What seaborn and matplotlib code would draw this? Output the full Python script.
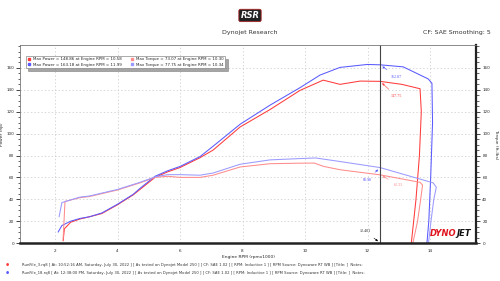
import matplotlib
matplotlib.use("Agg")
import matplotlib.pyplot as plt
import seaborn as sns
from matplotlib.lines import Line2D
from matplotlib.ticker import MultipleLocator

# ----------------------------------
# Dyno run data (rpm x1000 vs hp / ft-lbs)
# ----------------------------------
red_power_rpm = [2.26, 2.30, 2.50, 2.80, 3.10, 3.50, 4.00, 4.50, 4.72, 5.20, 5.60, 6.00,
                 6.64, 7.06, 7.92, 8.88, 9.84, 10.58, 11.12, 11.76, 12.40, 13.10, 13.68,
                 13.72, 13.66, 13.55, 13.40]
red_power_hp = [2, 13, 19, 22, 24, 27, 35, 44, 49, 60, 65, 69,
                78, 85, 106, 122, 139.5, 148.86, 145, 148, 147.75, 145, 141,
                120, 80, 40, 0]

blue_power_rpm = [2.10, 2.22, 2.50, 2.80, 3.10, 3.50, 4.00, 4.50, 4.72, 5.20, 5.60, 6.00,
                  6.64, 7.06, 7.92, 8.88, 9.84, 10.48, 11.12, 11.99, 12.40, 13.14, 13.94,
                  14.06, 14.08, 14.02, 13.96, 13.90]
blue_power_hp = [10, 16, 20, 22.5, 24, 27.5, 35.5, 44.5, 50, 61, 66, 70,
                 79, 88.5, 108.5, 126, 142, 153.5, 160.5, 163.18, 162.87, 161, 150,
                 146, 110, 60, 20, 0]

red_torque_rpm = [2.26, 2.32, 2.80, 3.10, 4.00, 4.72, 5.20, 5.60, 6.00, 6.64, 7.06, 7.92,
                  8.88, 9.84, 10.30, 10.60, 11.12, 12.40, 13.68, 13.76, 13.70, 13.60, 13.45]
red_torque_ft = [4, 38, 41.5, 42.5, 48.5, 55, 60, 61, 60, 60, 62, 69.5,
                 72.5, 73, 73.07, 70, 67, 62.33, 55.5, 53, 40, 20, 0]

blue_torque_rpm = [2.13, 2.22, 2.80, 3.10, 4.00, 4.72, 5.20, 5.60, 6.00, 6.64, 7.06, 7.92,
                   8.88, 9.84, 10.34, 11.12, 12.40, 14.10, 14.20, 14.12, 14.03, 13.95]
blue_torque_ft = [24, 37, 42, 43, 49, 55.5, 60.5, 62.5, 62.5, 62, 64, 72,
                  76, 77.2, 77.75, 74.5, 68.98, 55, 51, 40, 20, 0]

legend_labels = [
    "Max Power = 148.86 at Engine RPM = 10.58",
    "Max Power = 163.18 at Engine RPM = 11.99",
    "Max Torque = 73.07 at Engine RPM = 10.30",
    "Max Torque = 77.75 at Engine RPM = 10.34",
]
run_notes = [
    "RunFile_3.rq8 [ At: 10:52:16 AM, Saturday, July 30, 2022 ] [ As tested on Dynojet Model 250 ] "
    "[ CF: SAE 1.02 ] [ RPM: Inductive 1 ] [ RPM Source: Dynoware RT WB ] [Title: ]  Notes:",
    "RunFile_18.rq8 [ At: 12:38:00 PM, Saturday, July 30, 2022 ] [ As tested on Dynojet Model 250 ] "
    "[ CF: SAE 1.02 ] [ RPM: Inductive 1 ] [ RPM Source: Dynoware RT WB ] [Title: ]  Notes:",
]
cursor_rpm = 12.401

RED = "#ff3b3b"
RED_LT = "#ff8c8c"
BLUE = "#5a5aff"
BLUE_LT = "#9a9aff"

# ----------------------------------
# Figure
# ----------------------------------
sns.set_style("white")
plt.rcParams["font.family"] = ["DejaVu Sans"]

fig = plt.figure(figsize=(5, 2.81), dpi=100)
ax = fig.add_axes([0.04, 0.135, 0.912, 0.705])

curves = [
    (red_power_rpm, red_power_hp, RED),
    (blue_power_rpm, blue_power_hp, BLUE),
    (red_torque_rpm, red_torque_ft, RED_LT),
    (blue_torque_rpm, blue_torque_ft, BLUE_LT),
]
for xs, ys, col in curves:
    sns.lineplot(x=xs, y=ys, sort=False, estimator=None, color=col, lw=0.75, ax=ax)

ax.set_xlim(0.88, 15.47)
ax.set_ylim(0, 181)
ax.xaxis.set_major_locator(MultipleLocator(2))
ax.xaxis.set_minor_locator(MultipleLocator(0.5))
ax.yaxis.set_minor_locator(MultipleLocator(5))
ax.set_yticks([0, 20, 40, 60, 80, 100, 120, 140, 160])
ax.tick_params(axis="both", which="major", labelsize=3, length=3, width=0.6, pad=1, direction="out")
ax.tick_params(axis="both", which="minor", length=1.8, width=0.5, direction="out")
ax.grid(True, which="major", ls=(0, (2, 3)), color="#c8c8c8", lw=0.5)

for side in ["top", "left"]:
    ax.spines[side].set_color("#777777")
    ax.spines[side].set_linewidth(0.6)
ax.spines["bottom"].set_color("#222222")
ax.spines["bottom"].set_linewidth(1.8)
ax.spines["right"].set_color("#222222")
ax.spines["right"].set_linewidth(1.6)

ax.set_xlabel("Engine RPM (rpmx1000)", fontsize=3.2, labelpad=2)
ax.set_ylabel("Power (hp)", fontsize=3.2)
ax.yaxis.set_label_coords(-0.034, 0.55)

ax2 = ax.twinx()
ax2.set_ylim(0, 181)
ax2.set_yticks([0, 20, 40, 60, 80, 100, 120, 140, 160])
ax2.yaxis.set_minor_locator(MultipleLocator(5))
ax2.tick_params(axis="y", which="major", labelsize=3, length=3, width=0.6, pad=1.5)
ax2.tick_params(axis="y", which="minor", length=1.8, width=0.5)
ax2.set_ylabel("Torque (ft-lbs)", fontsize=3.2, rotation=270, labelpad=6)
for s in ax2.spines.values():
    s.set_visible(False)

# cursor line + values
ax.axvline(cursor_rpm, color="#444444", lw=0.8)
arrow = dict(arrowstyle="-|>", lw=0.4, mutation_scale=3)
ann = [
    ("162.87", 162.87, 12.75, 152, BLUE),
    ("147.75", 147.75, 12.75, 134, RED),
    ("68.98", 68.98, 11.85, 58, BLUE),
    ("62.33", 62.33, 12.85, 53, RED_LT),
]
for txt, yv, tx, ty, col in ann:
    ax.annotate(txt, xy=(cursor_rpm, yv), xytext=(tx, ty), fontsize=3, color=col,
                family="Liberation Serif", ha="left", va="center",
                arrowprops=dict(arrow, color=col))
ax.annotate("12.401", xy=(cursor_rpm, 0), xytext=(11.75, 11), fontsize=3,
            family="Liberation Serif", ha="left", va="center",
            arrowprops=dict(arrow, color="black"))

# legend
handles = [Line2D([], [], ls="none", marker="s", ms=2.0, color=c) for c in [RED, BLUE, RED_LT, BLUE_LT]]
leg = ax.legend(handles, legend_labels, ncol=2, loc="upper left", bbox_to_anchor=(0.008, 0.955),
                fontsize=2.9, frameon=True, fancybox=False, shadow=True, handlelength=0.8,
                handletextpad=0.6, columnspacing=2.2, borderpad=0.4, labelspacing=0.3)
leg.get_frame().set_edgecolor("#888888")
leg.get_frame().set_linewidth(0.5)

# header
fig.text(0.5, 0.945, "RSR", ha="center", va="center", fontsize=6, fontweight="bold",
         style="italic", color="white",
         bbox=dict(boxstyle="round,pad=0.2", fc="#222222", ec="#aa2222", lw=0.6))
fig.text(0.5, 0.885, "Dynojet Research", ha="center", va="center", fontsize=4.5, color="#333333")
fig.text(0.982, 0.885, "CF: SAE Smoothing: 5", ha="right", va="center", fontsize=4.5, color="#333333")

# brand mark bottom right
fig.text(0.912, 0.168, "DYNO", ha="right", va="center", fontsize=6, fontweight="bold",
         style="italic", color="#e0141e")
fig.text(0.912, 0.168, "JET", ha="left", va="center", fontsize=6, fontweight="bold",
         style="italic", color="#111111")

# run notes
for i, (note, col) in enumerate(zip(run_notes, [RED, BLUE])):
    yy = 0.056 - i * 0.027
    fig.text(0.012, yy, "\u25cf", color=col, fontsize=2.6, va="center")
    fig.text(0.044, yy, note, fontsize=2.7, va="center", color="#333333")

fig.savefig("out.png", dpi=100)
